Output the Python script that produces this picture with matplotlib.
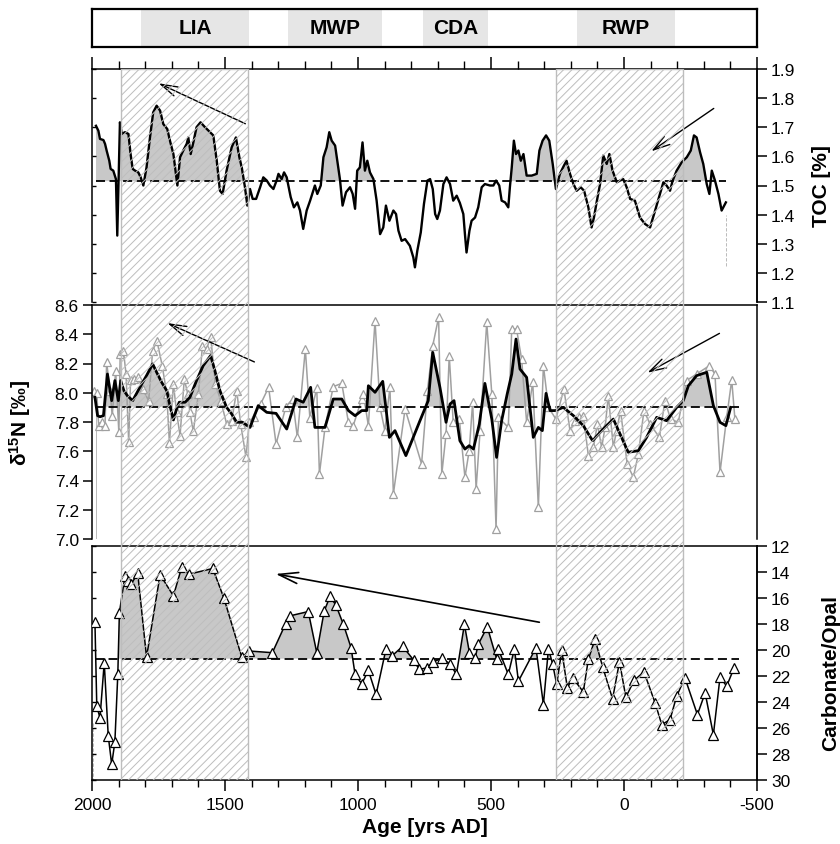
import matplotlib
matplotlib.use("Agg")
import matplotlib.pyplot as plt
import numpy as np
from matplotlib.patches import Rectangle
from matplotlib.ticker import MultipleLocator

plt.rcParams['font.family'] = ['Liberation Sans', 'DejaVu Sans']
plt.rcParams['mathtext.fontset'] = 'custom'
plt.rcParams['mathtext.rm'] = 'Liberation Sans'
plt.rcParams['mathtext.bf'] = 'Liberation Sans:bold'
plt.rcParams['mathtext.it'] = 'Liberation Sans:italic'
plt.rcParams['hatch.linewidth'] = 0.7
plt.rcParams['hatch.color'] = '#bdbdbd'

# ---------------- climate periods (yrs AD) ----------------
period_names = ['LIA', 'MWP', 'CDA', 'RWP']
period_start = [1815, 1265, 755, 175]
period_end = [1410, 910, 510, -190]

# hatched intervals across the three records
hatch_start = [1890, 255]
hatch_end = [1415, -220]

# ---------------- TOC [%] ----------------
toc_age = [1985, 1976, 1970, 1957, 1951, 1945, 1935, 1930, 1920, 1910, 1905, 1895, 1888, 1876,
           1863, 1855, 1847, 1838, 1826, 1817, 1807, 1795, 1782, 1770, 1757, 1744, 1732, 1717,
           1707, 1694, 1679, 1669, 1657, 1644, 1638, 1629, 1619, 1607, 1592, 1575, 1556, 1544,
           1531, 1519, 1509, 1494, 1475, 1459, 1446, 1437, 1425, 1416, 1406, 1396, 1383, 1368,
           1356, 1343, 1331, 1318, 1306, 1299, 1287, 1278, 1268, 1253, 1241, 1228, 1218, 1206,
           1193, 1180, 1170, 1162, 1153, 1140, 1130, 1118, 1108, 1099, 1086, 1078, 1068, 1058,
           1045, 1030, 1020, 1011, 1003, 993, 983, 974, 965, 955, 942, 930, 917, 905, 895, 882,
           867, 857, 848, 836, 823, 805, 792, 786, 777, 764, 752, 739, 729, 719, 710, 702, 692,
           679, 667, 654, 642, 629, 617, 604, 598, 592, 581, 573, 560, 548, 535, 523, 504, 491,
           481, 469, 460, 447, 435, 429, 422, 414, 406, 397, 388, 378, 366, 347, 328, 318, 306,
           293, 281, 268, 256, 241, 226, 216, 203, 190, 178, 163, 150, 134, 122, 113, 103, 90,
           78, 65, 55, 43, 27, 15, 3, -10, -23, -41, -60, -79, -98, -117, -135, -148, -160,
           -173, -183, -198, -217, -236, -251, -263, -273, -286, -298, -311, -321, -330, -342,
           -355, -367, -383]
toc_val = [1.705, 1.688, 1.660, 1.656, 1.643, 1.620, 1.585, 1.557, 1.551, 1.522, 1.328, 1.717,
           1.677, 1.683, 1.677, 1.608, 1.557, 1.551, 1.545, 1.528, 1.500, 1.562, 1.665, 1.751,
           1.774, 1.757, 1.711, 1.694, 1.654, 1.608, 1.500, 1.597, 1.620, 1.643, 1.665, 1.608,
           1.648, 1.700, 1.717, 1.700, 1.683, 1.672, 1.585, 1.482, 1.471, 1.551, 1.631, 1.665,
           1.597, 1.562, 1.494, 1.431, 1.488, 1.454, 1.454, 1.494, 1.528, 1.517, 1.500, 1.488,
           1.517, 1.540, 1.522, 1.545, 1.528, 1.460, 1.425, 1.442, 1.414, 1.351, 1.414, 1.448,
           1.477, 1.500, 1.471, 1.500, 1.597, 1.631, 1.683, 1.654, 1.637, 1.585, 1.522, 1.431,
           1.477, 1.494, 1.471, 1.420, 1.551, 1.562, 1.648, 1.551, 1.585, 1.545, 1.522, 1.448,
           1.333, 1.356, 1.431, 1.379, 1.414, 1.402, 1.345, 1.310, 1.316, 1.293, 1.253, 1.219,
           1.276, 1.339, 1.437, 1.517, 1.522, 1.488, 1.402, 1.385, 1.414, 1.505, 1.528, 1.505,
           1.448, 1.465, 1.440, 1.402, 1.333, 1.270, 1.345, 1.379, 1.390, 1.425, 1.494, 1.505,
           1.500, 1.500, 1.517, 1.500, 1.448, 1.442, 1.425, 1.494, 1.562, 1.654, 1.608, 1.620,
           1.585, 1.608, 1.534, 1.534, 1.540, 1.620, 1.654, 1.672, 1.654, 1.574, 1.488, 1.540,
           1.568, 1.585, 1.540, 1.505, 1.482, 1.494, 1.482, 1.425, 1.356, 1.390, 1.442, 1.505,
           1.603, 1.574, 1.608, 1.551, 1.511, 1.517, 1.522, 1.494, 1.454, 1.448, 1.390, 1.368,
           1.356, 1.414, 1.471, 1.511, 1.500, 1.482, 1.517, 1.551, 1.580, 1.597, 1.620, 1.672,
           1.665, 1.614, 1.574, 1.505, 1.471, 1.551, 1.517, 1.471, 1.414, 1.442]
toc_mean = 1.515

# ---------------- d15N [permil], measured ----------------
d15n_age = [1992, 1982, 1975, 1964, 1951, 1945, 1932, 1924, 1911, 1899, 1894, 1882, 1872, 1862,
            1855, 1842, 1827, 1810, 1787, 1772, 1756, 1736, 1719, 1709, 1694, 1682, 1669, 1653,
            1640, 1632, 1619, 1600, 1585, 1569, 1554, 1536, 1516, 1494, 1475, 1456, 1441, 1421,
            1409, 1391, 1366, 1336, 1308, 1271, 1246, 1228, 1198, 1181, 1155, 1145, 1124, 1093,
            1061, 1036, 1018, 986, 980, 961, 936, 917, 899, 880, 867, 823, 761, 739, 719, 697,
            685, 669, 657, 642, 619, 598, 582, 569, 556, 541, 516, 497, 481, 472, 435, 422, 404,
            385, 366, 343, 322, 303, 284, 256, 226, 203, 184, 168, 153, 134, 115, 100, 84, 71,
            59, 40, 28, 13, -12, -35, -54, -75, -98, -133, -154, -175, -204, -235, -273, -321,
            -342, -361, -386, -405, -417]
d15n_val = [8.01, 7.996, 7.775, 7.80, 7.775, 8.208, 8.014, 7.843, 8.151, 7.729, 8.265, 8.288,
            8.128, 7.661, 8.087, 8.094, 8.105, 8.026, 7.946, 8.288, 8.356, 8.185, 7.992, 7.656,
            8.06, 7.866, 7.707, 8.094, 7.992, 7.866, 7.736, 7.992, 8.317, 8.299, 8.383, 8.06,
            7.946, 7.787, 7.809, 8.014, 7.787, 7.558, 7.798, 7.836, 7.923, 8.037, 7.65, 7.905,
            7.957, 7.695, 8.299, 7.83, 8.03, 7.444, 7.763, 8.042, 8.064, 7.798, 7.775, 7.957,
            7.992, 7.775, 8.493, 7.90, 7.741, 8.037, 7.308, 7.889, 7.513, 8.014, 8.322, 8.516,
            7.444, 7.718, 8.254, 7.798, 7.82, 7.422, 7.604, 7.935, 7.342, 7.741, 8.482, 7.992,
            7.068, 7.832, 7.763, 8.436, 8.436, 8.231, 7.798, 8.071, 7.217, 8.185, 7.90, 7.82,
            8.026, 7.741, 7.809, 7.832, 7.843, 7.57, 7.627, 7.786, 7.627, 7.763, 7.98, 7.627,
            7.741, 7.877, 7.513, 7.422, 7.581, 7.877, 7.786, 7.695, 7.946, 7.82, 7.798, 8.083,
            8.128, 8.185, 8.128, 7.456, 7.832, 8.087, 7.82]

# ---------------- d15N [permil], smoothed ----------------
d15s_age = [1989, 1979, 1970, 1957, 1942, 1926, 1914, 1901, 1892, 1880, 1867, 1847, 1820, 1795,
            1772, 1757, 1738, 1719, 1707, 1694, 1682, 1672, 1650, 1632, 1607, 1582, 1554, 1538,
            1519, 1494, 1475, 1456, 1434, 1406, 1375, 1343, 1308, 1268, 1233, 1206, 1178, 1162,
            1124, 1093, 1061, 1036, 1011, 986, 967, 961, 936, 907, 882, 861, 820, 767, 736, 719,
            692, 669, 654, 639, 617, 598, 582, 566, 544, 523, 497, 479, 460, 439, 422, 406, 391,
            366, 341, 322, 307, 293, 278, 259, 228, 190, 153, 118, 84, 40, 15, -16, -54, -85,
            -123, -160, -198, -223, -242, -273, -311, -336, -361, -383, -401]
d15s_val = [7.969, 7.843, 7.836, 7.843, 8.128, 7.946, 8.083, 7.946, 8.083, 8.014, 7.98, 7.946,
            8.037, 8.117, 8.197, 8.14, 8.071, 8.014, 7.912, 7.814, 7.889, 7.935, 7.935, 7.969,
            8.083, 8.185, 8.254, 8.151, 8.014, 7.90, 7.855, 7.798, 7.798, 7.763, 7.912, 7.866,
            7.859, 7.752, 7.957, 7.935, 8.037, 7.763, 7.763, 7.957, 7.957, 7.878, 7.843, 7.878,
            7.878, 8.048, 8.003, 8.078, 7.695, 7.741, 7.57, 7.809, 7.946, 8.276, 8.037, 7.798,
            7.923, 7.946, 7.672, 7.615, 7.638, 7.615, 7.786, 8.064, 7.82, 7.558, 7.809, 7.992,
            8.128, 8.367, 8.162, 8.105, 7.695, 7.763, 7.741, 7.996, 7.878, 7.878, 7.90, 7.843,
            7.775, 7.672, 7.741, 7.82, 7.718, 7.593, 7.604, 7.695, 7.832, 7.809, 7.90, 7.946,
            8.048, 8.117, 8.14, 7.912, 7.798, 7.775, 7.90]
d15n_mean = 7.905

# ---------------- Carbonate/Opal ----------------
co_age = [1989, 1982, 1970, 1954, 1939, 1926, 1914, 1903, 1897, 1876, 1863, 1853, 1828, 1795,
          1744, 1694, 1663, 1634, 1546, 1504, 1437, 1409, 1322, 1272, 1256, 1187, 1155, 1127,
          1105, 1083, 1055, 1026, 1011, 986, 961, 932, 895, 873, 832, 790, 770, 742, 717, 686,
          654, 630, 600, 581, 560, 548, 514, 479, 472, 435, 412, 397, 331, 303, 284, 268, 253,
          234, 213, 193, 153, 134, 109, 80, 43, 17, -7, -38, -75, -117, -142, -173, -198, -229,
          -276, -305, -336, -361, -386, -414]
co_val = [17.83, 24.33, 25.23, 20.99, 26.59, 28.8, 27.08, 21.89, 17.14, 14.31, 14.70, 14.95,
          14.13, 20.56, 14.23, 15.85, 13.67, 14.18, 13.75, 16.03, 20.56, 20.09, 20.22, 17.99,
          17.39, 17.06, 20.22, 17.01, 15.90, 16.57, 18.04, 19.84, 21.89, 22.61, 21.58, 23.43,
          19.96, 20.48, 19.73, 20.81, 21.51, 21.38, 20.92, 20.66, 21.07, 21.89, 18.04, 20.22,
          20.66, 19.58, 18.24, 20.68, 19.96, 21.89, 19.91, 22.41, 19.84, 24.20, 19.91, 21.12,
          22.66, 20.04, 22.92, 22.15, 23.23, 20.73, 19.19, 21.33, 23.77, 20.92, 23.64, 22.35,
          21.69, 24.08, 25.75, 25.36, 23.56, 22.15, 24.98, 23.31, 26.52, 22.10, 22.79, 21.38]
co_mean = 20.68

# thin grey drop lines at the record ends (age, upper, lower)
toc_drop = [-383, 1.40, 1.225]
d15n_drop = [1986, 7.97, 7.0]
co_drop = [1996, 25.6, 30.0]

# ---------------- layout ----------------
W_PX, H_PX = 840, 845
X0, X1 = 92, 757
XLIM = (2000, -500)
FILL = '#c8c8c8'
TICK_FS = 12.5
LAB_FS = 15


def rect(top, bottom):
    return [X0 / W_PX, 1 - bottom / H_PX, (X1 - X0) / W_PX, (bottom - top) / H_PX]


fig = plt.figure(figsize=(W_PX / 100, H_PX / 100), dpi=100)

# period bar
axb = fig.add_axes(rect(10, 48))
axb.set_xlim(XLIM)
axb.set_ylim(0, 1)
axb.set_xticks([])
axb.set_yticks([])
for s in axb.spines.values():
    s.set_linewidth(1.6)
for name, a, b in zip(period_names, period_start, period_end):
    axb.axvspan(a, b, color='#e6e6e6', lw=0)
    axb.text((a + b) / 2, 0.5, name, ha='center', va='center',
             fontsize=LAB_FS, fontweight='bold')


def style_common(ax):
    for s in ax.spines.values():
        s.set_linewidth(1.1)
    ax.set_xlim(XLIM)
    ax.patch.set_alpha(0)


# ---- TOC panel ----
ax1 = fig.add_axes(rect(70, 303))
style_common(ax1)
ax1.set_ylim(1.1, 1.9)
ax1.spines['bottom'].set_visible(False)
ax1.xaxis.tick_top()
ax1.xaxis.set_major_locator(MultipleLocator(500))
ax1.xaxis.set_minor_locator(MultipleLocator(100))
ax1.tick_params(axis='x', which='major', direction='out', length=9, width=1.1, labeltop=False)
ax1.tick_params(axis='x', which='minor', direction='out', length=5.5, width=1.0)
ax1.yaxis.set_major_locator(MultipleLocator(0.1))
ax1.tick_params(axis='y', direction='in', length=3, width=1.0, labelleft=False)
t = np.array(toc_age)
v = np.array(toc_val)
ax1.fill_between(t, v, toc_mean, where=v > toc_mean, interpolate=True, color=FILL, lw=0, zorder=1)
ax1.hlines(toc_mean, t.max(), t.min(), colors='k', linestyles=(0, (5, 2.5)), lw=1.3, zorder=2)
ax1.plot(t, v, color='k', lw=1.7, zorder=3, solid_joinstyle='round')
ax1.vlines(toc_drop[0], toc_drop[2], toc_drop[1], colors='#b0b0b0', lw=0.6,
           linestyles=(0, (4, 2)), zorder=1)
ax1.annotate('', xy=(1759, 1.855), xytext=(1414, 1.708),
             arrowprops=dict(arrowstyle='->,head_length=1.2,head_width=0.35', color='k', lw=1.0))
ax1.annotate('', xy=(-94, 1.612), xytext=(-346, 1.770),
             arrowprops=dict(arrowstyle='->,head_length=1.2,head_width=0.35', color='k', lw=1.0))

ax1r = ax1.twinx()
ax1r.set_ylim(1.1, 1.9)
ax1r.patch.set_alpha(0)
for s in ax1r.spines.values():
    s.set_visible(False)
ax1r.spines['right'].set_visible(True)
ax1r.spines['right'].set_linewidth(1.1)
ax1r.yaxis.set_major_locator(MultipleLocator(0.1))
ax1r.yaxis.set_major_formatter(plt.FuncFormatter(lambda x, p: f'{x:.1f}'))
ax1r.tick_params(axis='y', direction='out', length=7, width=1.1, labelsize=TICK_FS, pad=3)
ax1r.set_ylabel('TOC [%]', fontsize=LAB_FS, fontweight='bold')
ax1r.yaxis.set_label_coords(1.083, 0.5)

# ---- d15N panel ----
ax2 = fig.add_axes(rect(306, 540))
style_common(ax2)
ax2.set_ylim(7.0, 8.6)
ax2.spines['bottom'].set_visible(False)
ax2.set_xticks([])
ax2.yaxis.set_major_locator(MultipleLocator(0.2))
ax2.yaxis.set_major_formatter(plt.FuncFormatter(lambda x, p: f'{x:.1f}'))
ax2.tick_params(axis='y', direction='out', length=6.5, width=1.1, labelsize=TICK_FS, pad=3)
ra = np.array(d15n_age)
rv = np.array(d15n_val)
sa = np.array(d15s_age)
sv = np.array(d15s_val)
ax2.fill_between(sa, sv, d15n_mean, where=sv > d15n_mean, interpolate=True, color=FILL, lw=0, zorder=1)
ax2.plot(ra, rv, color='#a0a0a0', lw=1.1, marker='^', ms=6, mfc='white', mec='#a0a0a0',
         mew=0.9, zorder=2)
ax2.hlines(d15n_mean, sa.max(), ra.min() - 15, colors='k', linestyles=(0, (5, 2.5)), lw=1.3, zorder=3)
ax2.plot(sa, sv, color='k', lw=2.0, zorder=4, solid_joinstyle='round')
ax2.vlines(d15n_drop[0], d15n_drop[2], d15n_drop[1], colors='#b0b0b0', lw=0.6, zorder=1)
ax2.annotate('', xy=(1726, 8.484), xytext=(1380, 8.203),
             arrowprops=dict(arrowstyle='->,head_length=1.2,head_width=0.35', color='k', lw=1.0))
ax2.annotate('', xy=(-79, 8.128), xytext=(-368, 8.415),
             arrowprops=dict(arrowstyle='->,head_length=1.2,head_width=0.35', color='k', lw=1.0))
ax2.set_ylabel('δ$^{\\mathbf{15}}$N [‰]', fontsize=LAB_FS, fontweight='bold')
ax2.yaxis.set_label_coords(-0.089, 0.5)

# ---- Carbonate/Opal panel ----
ax3 = fig.add_axes(rect(546.7, 781))
style_common(ax3)
ax3.set_ylim(30, 12)
ax3.xaxis.set_major_locator(MultipleLocator(500))
ax3.xaxis.set_minor_locator(MultipleLocator(100))
ax3.xaxis.set_major_formatter(plt.FuncFormatter(lambda x, p: f'{x:.0f}'))
ax3.tick_params(axis='x', which='major', direction='out', length=8, width=1.1,
                labelsize=TICK_FS, pad=4)
ax3.tick_params(axis='x', which='minor', direction='out', length=5, width=1.0)
ax3.yaxis.set_major_locator(MultipleLocator(2))
ax3.tick_params(axis='y', direction='in', length=3, width=1.0, labelleft=False)
ca = np.array(co_age)
cv = np.array(co_val)
ax3.fill_between(ca, cv, co_mean, where=cv < co_mean, interpolate=True, color=FILL, lw=0, zorder=1)
ax3.hlines(co_mean, ca.max(), ca.min() - 20, colors='k', linestyles=(0, (5, 2.5)), lw=1.3, zorder=2)
ax3.plot(ca, cv, color='k', lw=1.1, marker='^', ms=7, mfc='white', mec='k', mew=0.9, zorder=3)
ax3.vlines(co_drop[0], co_drop[1], co_drop[2], colors='#b0b0b0', lw=0.6,
           linestyles=(0, (4, 2)), zorder=1)
ax3.annotate('', xy=(1320, 14.13), xytext=(308, 17.92),
             arrowprops=dict(arrowstyle='->,head_length=1.4,head_width=0.4', color='k', lw=1.2))
ax3.set_xlabel('Age [yrs AD]', fontsize=LAB_FS, fontweight='bold', labelpad=4)

ax3r = ax3.twinx()
ax3r.set_ylim(30, 12)
ax3r.patch.set_alpha(0)
for s in ax3r.spines.values():
    s.set_visible(False)
ax3r.spines['right'].set_visible(True)
ax3r.spines['right'].set_linewidth(1.1)
ax3r.yaxis.set_major_locator(MultipleLocator(2))
ax3r.tick_params(axis='y', direction='out', length=7, width=1.1, labelsize=TICK_FS, pad=3)
ax3r.set_ylabel('Carbonate/Opal', fontsize=LAB_FS, fontweight='bold')
ax3r.yaxis.set_label_coords(1.097, 0.46)

# ---- hatched intervals drawn over all panels ----
axh = fig.add_axes(rect(70, 781), zorder=20)
axh.set_xlim(XLIM)
axh.set_ylim(0, 1)
axh.axis('off')
axh.patch.set_alpha(0)
for a, b in zip(hatch_start, hatch_end):
    axh.add_patch(Rectangle((a, 0), b - a, 1, facecolor='none', edgecolor='#bdbdbd',
                            hatch='////', lw=1.0))

fig.savefig('out.png', dpi=100)
